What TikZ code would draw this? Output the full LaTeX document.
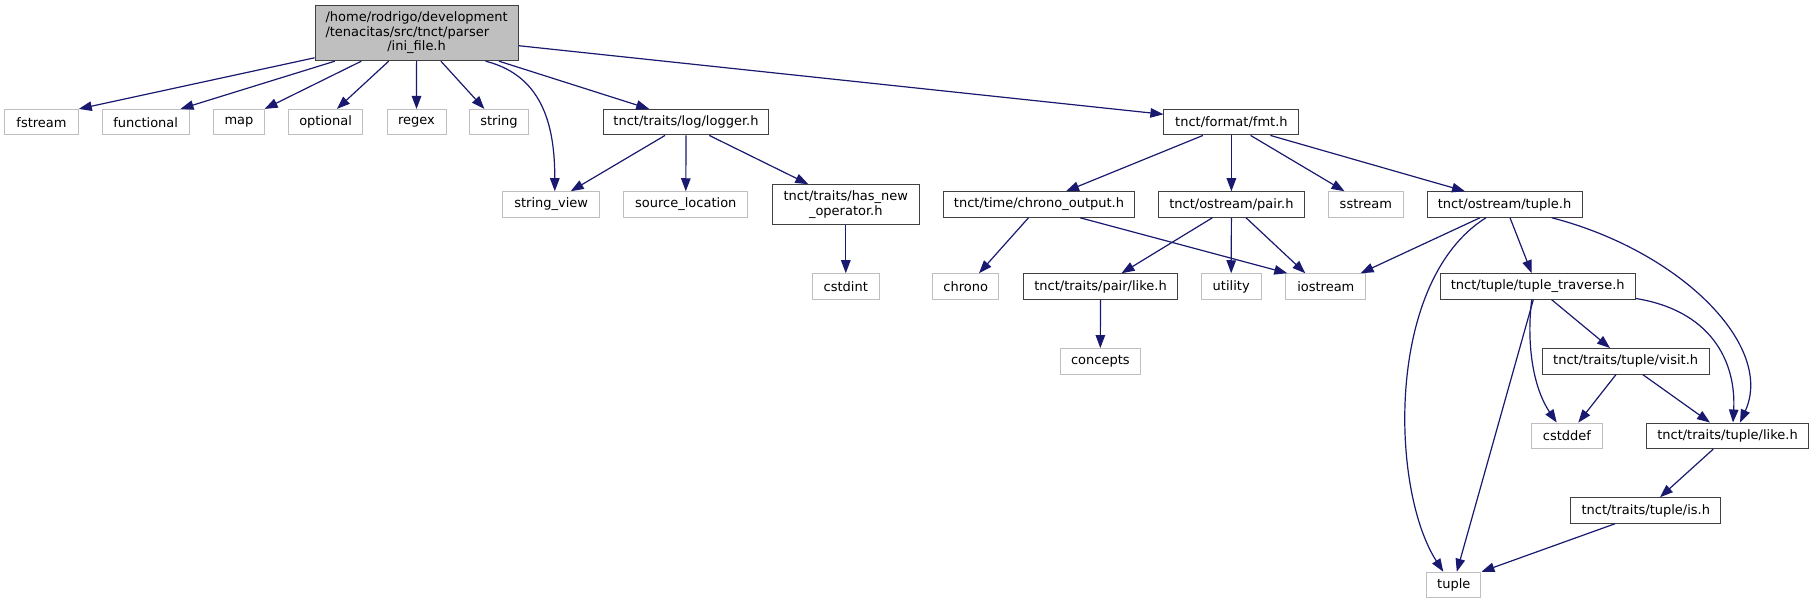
\documentclass[tikz,border=0pt]{standalone}
\usepackage{fontspec}
\setmainfont{DejaVu Sans}
\usetikzlibrary{arrows.meta}
\definecolor{edgec}{HTML}{191970}
\definecolor{gborder}{HTML}{BFBFBF}
\definecolor{bborder}{HTML}{404040}
\begin{document}
\begin{tikzpicture}[x=1pt,y=-1pt,
  every node/.style={font=\fontsize{13}{14.5}\selectfont, inner sep=0pt, line width=1pt},
  ext/.style={draw=gborder, fill=white, minimum height=25.5},
  hdr/.style={draw=bborder, fill=white, minimum height=25.5},
  edge/.style={draw=edgec, line width=1.2pt, -{Triangle[length=13pt,width=9.5pt]}},
]
\useasboundingbox (0,0) rectangle (1813,604);
\fill[white] (0,0) rectangle (1813,604);

% nodes
\node[draw=bborder, fill=gborder, minimum width=203, minimum height=55] (ini) at (416.6,33.2)
  {\begin{tabular}{@{}l@{}}/home/rodrigo/development\\/tenacitas/src/tnct/parser\\\multicolumn{1}{@{}c@{}}{/ini\_file.h}\end{tabular}};

\node[ext, minimum width=73.6] (fstream) at (41.5,122.2) {fstream};
\node[ext, minimum width=86.6] (functional) at (145.7,122.2) {functional};
\node[ext, minimum width=50.2] (map) at (239,122.2) {map};
\node[ext, minimum width=74.7] (optional) at (325.6,122.2) {optional};
\node[ext, minimum width=59] (regex) at (416.5,122.2) {regex};
\node[ext, minimum width=58.6] (string) at (499,122.2) {string};
\node[hdr, minimum width=165.3] (logger) at (686,122.2) {tnct/traits/log/logger.h};
\node[hdr, minimum width=135] (fmt) at (1231.4,122.2) {tnct/format/fmt.h};

\node[ext, minimum width=97.3] (stringview) at (551.2,204.5) {string\_view};
\node[ext, minimum width=124.3] (srcloc) at (685.8,204.5) {source\_location};
\node[hdr, minimum width=147, minimum height=40, align=center] (hasnew) at (845.8,204.7) {tnct/traits/has\_new\\\_operator.h};
\node[hdr, minimum width=191] (chronoout) at (1039,204.5) {tnct/time/chrono\_output.h};
\node[hdr, minimum width=146] (pair) at (1231.4,204.5) {tnct/ostream/pair.h};
\node[ext, minimum width=75] (sstream) at (1365.9,204.5) {sstream};
\node[hdr, minimum width=155] (tupleh) at (1504.5,204.5) {tnct/ostream/tuple.h};

\node[ext, minimum width=67] (cstdint) at (845.8,286.5) {cstdint};
\node[ext, minimum width=66.5] (chrono) at (965.7,286.5) {chrono};
\node[hdr, minimum width=153.4] (pairlike) at (1100.5,286.5) {tnct/traits/pair/like.h};
\node[ext, minimum width=59.7] (utility) at (1231.2,286.5) {utility};
\node[ext, minimum width=80] (iostream) at (1325.8,286.5) {iostream};
\node[hdr, minimum width=194.7] (traverse) at (1537.7,286.5) {tnct/tuple/tuple\_traverse.h};

\node[ext, minimum width=79.5] (concepts) at (1100.3,361.3) {concepts};
\node[hdr, minimum width=166.7] (visit) at (1625.7,361.3) {tnct/traits/tuple/visit.h};

\node[ext, minimum width=70.7] (cstddef) at (1567,435.8) {cstddef};
\node[hdr, minimum width=161.7] (like) at (1727.5,435.8) {tnct/traits/tuple/like.h};

\node[hdr, minimum width=149.7] (is) at (1645.8,510.5) {tnct/traits/tuple/is.h};
\node[ext, minimum width=54.3] (tuple) at (1453.8,585) {tuple};

% edges from ini
\draw[edge] ([yshift=3.4]ini.south west) -- (fstream.north east);
\draw[edge] ([xshift=20.2]ini.south west) -- ([xshift=-9]functional.north east);
\draw[edge] ([xshift=46.7]ini.south west) -- (map.north east);
\draw[edge] ([xshift=-27.9]ini.south) -- ([xshift=11.3]optional.north);
\draw[edge] (ini.south) -- (regex.north);
\draw[edge] ([xshift=24.3]ini.south) -- ([xshift=-14.6]string.north);
\draw[edge] ([xshift=69]ini.south) .. controls +(60,15) and +(0,-60) .. ([xshift=3.6]stringview.north);
\draw[edge] ([xshift=82.4]ini.south) -- ([xshift=-36.8]logger.north);
\draw[edge] ([yshift=-12.5]ini.east) -- ([yshift=7.9]fmt.west);

% logger
\draw[edge] ([xshift=-21]logger.south) -- ([xshift=19.5]stringview.north);
\draw[edge] (logger.south) -- (srcloc.north);
\draw[edge] ([xshift=23.3]logger.south) -- ([xshift=-37.5]hasnew.north);
\draw[edge] (hasnew.south) -- (cstdint.north);

% fmt
\draw[edge] ([xshift=-28.5]fmt.south) -- ([xshift=27]chronoout.north);
\draw[edge] (fmt.south) -- (pair.north);
\draw[edge] ([xshift=19.2]fmt.south) -- ([xshift=-21.4]sstream.north);
\draw[edge] ([xshift=39]fmt.south) -- ([xshift=-39.5]tupleh.north);

% chrono_output
\draw[edge] ([xshift=-10.5]chronoout.south) -- ([xshift=13.3]chrono.north);
\draw[edge] ([xshift=41]chronoout.south) -- ([xshift=2]iostream.north west);

% pair
\draw[edge] ([xshift=-19]pair.south) -- ([xshift=21]pairlike.north);
\draw[edge] (pair.south) -- (utility.north);
\draw[edge] ([xshift=14.6]pair.south) -- ([xshift=-20.5]iostream.north);
\draw[edge] (pairlike.south) -- (concepts.north);

% ostream/tuple.h
\draw[edge] ([xshift=-24.5]tupleh.south) -- ([xshift=34.8]iostream.north);
\draw[edge] ([xshift=-18.5]tupleh.south) .. controls +(-101,63) and +(-53,-82) .. ([xshift=-10.5]tuple.north);
\draw[edge] ([xshift=5.5]tupleh.south) -- ([xshift=-6]traverse.north);
\draw[edge] ([xshift=47.2]tupleh.south) .. controls +(128,33) and +(35,-77) .. ([xshift=12.5]like.north);

% tuple_traverse
\draw[edge] ([xshift=-4.4]traverse.south) -- ([xshift=3]tuple.north);
\draw[edge] ([xshift=-6]traverse.south) .. controls +(-5,40) and +(-25,-37) .. ([xshift=-10.3]cstddef.north);
\draw[edge] ([xshift=14]traverse.south) -- ([xshift=-15.7]visit.north);
\draw[edge] ([yshift=1.3]traverse.south east) .. controls +(75,12) and +(3.3,-61.7) .. ([xshift=5.5]like.north);

% visit, like, is
\draw[edge] ([xshift=-9.7]visit.south) -- ([xshift=11.3]cstddef.north);
\draw[edge] ([xshift=17]visit.south) -- ([xshift=-17.5]like.north);
\draw[edge] ([xshift=-14.2]like.south) -- ([xshift=14.2]is.north);
\draw[edge] ([xshift=-30.8]is.south) -- (tuple.north east);
\end{tikzpicture}
\end{document}
